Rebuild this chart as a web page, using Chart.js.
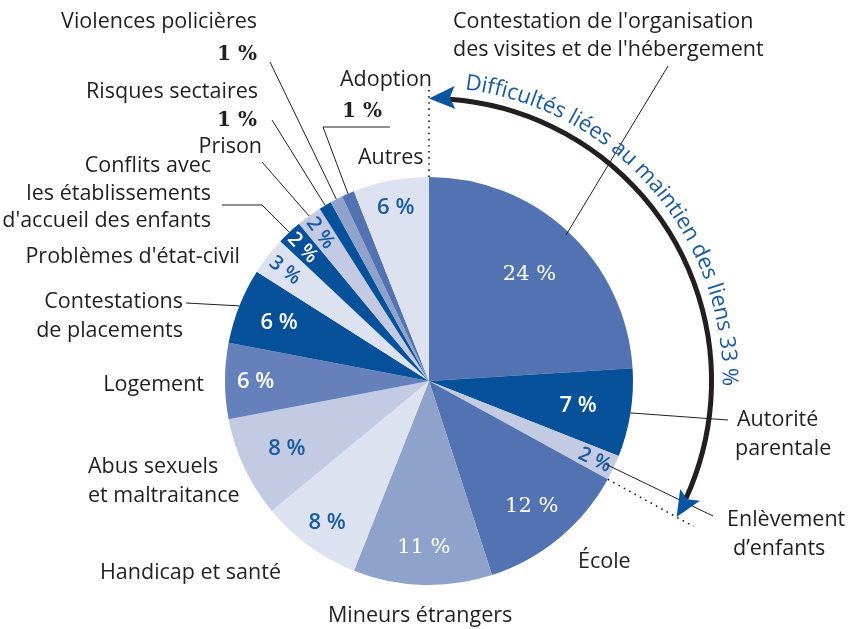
<!DOCTYPE html>
<html lang="fr">
<head>
<meta charset="utf-8">
<script src="https://cdn.jsdelivr.net/npm/chart.js@4.4.1/dist/chart.umd.min.js"></script>
<style>
  html, body { margin: 0; padding: 0; background: #fff; }
  canvas { display: block; }
</style>
</head>
<body>
<canvas id="pie-chart" width="853" height="629"></canvas>
<script>
// slices, clockwise from 12 o'clock
const categories = [
    "Contestation de l'organisation des visites et de l'hébergement",
    "Autorité parentale",
    "Enlèvement d'enfants",
    "École",
    "Mineurs étrangers",
    "Handicap et santé",
    "Abus sexuels et maltraitance",
    "Logement",
    "Contestations de placements",
    "Problèmes d'état-civil",
    "Conflits avec les établissements d'accueil des enfants",
    "Prison",
    "Risques sectaires",
    "Violences policières",
    "Adoption",
    "Autres",
];
const values = [24, 7, 2, 12, 11, 8, 8, 6, 6, 3, 2, 2, 1, 1, 1, 6];
const percentLabels = values.map((v) => v + " %");

// the first three slices form the "maintien des liens" group
const groupCount = 3;
const groupTitle = "Difficultés liées au maintien des liens";
const groupTotal = values.slice(0, groupCount).reduce((a, b) => a + b, 0);

// colours
const MED = "#5272b1";
const DARK = "#07509a";
const GREY = "#8fa2cc";
const LIGHT = "#c2cae4";
const VLIGHT = "#dde2f1";
const MED2 = "#6680bb";
const sliceColors = [MED, DARK, LIGHT, MED, GREY, VLIGHT, LIGHT, MED2, DARK, VLIGHT, DARK, LIGHT, DARK, GREY, MED, VLIGHT];

const INK = "#231f20";
const BLUE_TXT = "#1a5aa2";
const SANS = '"Open Sans", "DejaVu Sans", sans-serif';
const SERIF = '"DejaVu Serif", "Liberation Serif", serif';

const PCT_SANS = "600 22px " + SANS;
const PCT_SMALL = "600 20px " + SANS;
const PCT_SERIF = "21px " + SERIF;
const LABEL_FONT = "21.5px " + SANS;

// percent labels inside the slices (null = no label)
const innerStyles = [
    { r: 0.72, color: "#fff", font: PCT_SERIF },
    { r: 0.74, color: "#fff", font: PCT_SANS },
    { r: 0.90, color: BLUE_TXT, font: PCT_SMALL, rotate: true },
    { r: 0.79, color: "#fff", font: PCT_SERIF },
    { r: 0.81, color: "#fff", font: PCT_SERIF },
    { r: 0.85, color: BLUE_TXT, font: PCT_SANS },
    { r: 0.77, color: BLUE_TXT, font: PCT_SANS },
    { r: 0.85, color: "#fff", font: PCT_SANS },
    { r: 0.79, color: "#fff", font: PCT_SANS },
    { r: 0.89, color: BLUE_TXT, font: PCT_SMALL, rotate: true },
    { r: 0.90, color: "#fff", font: PCT_SMALL, rotate: true },
    { r: 0.90, color: BLUE_TXT, font: PCT_SMALL, rotate: true },
    null,
    null,
    null,
    { r: 0.87, color: BLUE_TXT, font: PCT_SANS },
];

// outside labels: text lines and leader lines (leader ends on the slice)
const outsideLabels = [
    { lines: [["Contestation de l'organisation", 453, 22], ["des visites et de l'hébergement", 453, 50]], align: "left",
      leader: [[668, 66]], edge: 0.98 },
    { lines: [["Autorité", 737, 420], ["parentale", 735, 449]], align: "left",
      leader: [[728, 420]], edge: 1.0 },
    { lines: [["Enlèvement", 727, 520], ["d’enfants", 733, 549]], align: "left",
      leader: [[713, 516]], edge: 0.96 },
    { lines: [["École", 578, 562]], align: "left" },
    { lines: [["Mineurs étrangers", 328, 616]], align: "left" },
    { lines: [["Handicap et santé", 100, 573]], align: "left" },
    { lines: [["Abus sexuels", 88, 467], ["et maltraitance", 88, 496]], align: "left" },
    { lines: [["Logement", 204, 385]], align: "right" },
    { lines: [["Contestations", 183, 302], ["de placements", 183, 331]], align: "right",
      leader: [[186, 303]], edge: 1.0 },
    { lines: [["Problèmes d'état-civil", 240, 257]], align: "right" },
    { lines: [["Conflits avec", 211, 166], ["les établissements", 211, 194], ["d'accueil des enfants", 211, 221]], align: "right",
      leader: [[222, 205], [262, 205]], edge: 1.0 },
    { lines: [["Prison", 262, 147]], align: "right",
      leader: [[262, 162]], edge: 1.0 },
    { lines: [["Risques sectaires", 258, 92]], pct: [257, 121], align: "right",
      leader: [[272, 120]], edge: 1.0 },
    { lines: [["Violences policières", 257, 22]], pct: [257, 55], align: "right",
      leader: [[270, 62]], edge: 1.0 },
    { lines: [["Adoption", 340, 80]], pct: [342, 112], align: "left",
      leader: [[390, 127], [323, 127]], edge: 1.0 },
    { lines: [["Autres", 358, 158]], align: "left" },
];

function polar(arc, angle, r) {
    return [arc.x + r * Math.cos(angle), arc.y + r * Math.sin(angle)];
}

function drawArrowHead(ctx, tip, dir, len, width) {
    ctx.save();
    ctx.translate(tip[0], tip[1]);
    ctx.rotate(dir);
    ctx.beginPath();
    ctx.moveTo(0, 0);
    ctx.lineTo(-len, -width / 2);
    ctx.lineTo(-len * 0.8, 0);
    ctx.lineTo(-len, width / 2);
    ctx.closePath();
    ctx.fillStyle = "#0a55a0";
    ctx.fill();
    ctx.restore();
}

function drawCurvedText(ctx, text, cx, cy, r, a0, a1) {
    ctx.save();
    ctx.font = "22px " + SANS;
    ctx.fillStyle = BLUE_TXT;
    ctx.textAlign = "center";
    ctx.textBaseline = "alphabetic";
    const total = ctx.measureText(text).width;
    const scale = ((a1 - a0) * r) / total;
    let a = a0;
    for (const ch of text) {
        const w = ctx.measureText(ch).width * scale;
        const mid = a + w / 2 / r;
        ctx.save();
        ctx.translate(cx + r * Math.cos(mid), cy + r * Math.sin(mid));
        ctx.rotate(mid + Math.PI / 2);
        ctx.fillText(ch, 0, 0);
        ctx.restore();
        a += w / r;
    }
    ctx.restore();
}

const annotations = {
    id: "annotations",
    afterDatasetsDraw(chart) {
        const ctx = chart.ctx;
        const arcs = chart.getDatasetMeta(0).data;
        const R = arcs[0].outerRadius;
        const cx = arcs[0].x;
        const cy = arcs[0].y;

        // percent labels inside slices
        arcs.forEach((arc, i) => {
            const st = innerStyles[i];
            if (!st) return;
            const mid = (arc.startAngle + arc.endAngle) / 2;
            const [x, y] = polar(arc, mid, R * st.r);
            ctx.save();
            ctx.translate(x, y);
            if (st.rotate) {
                // text runs radially, always left-to-right
                let rot = mid;
                if (Math.cos(mid) < 0) rot += Math.PI;
                ctx.rotate(rot);
            }
            ctx.font = st.font;
            ctx.fillStyle = st.color;
            ctx.textAlign = "center";
            ctx.textBaseline = "middle";
            ctx.fillText(percentLabels[i], 0, 1);
            ctx.restore();
        });

        // leader lines
        ctx.save();
        ctx.strokeStyle = INK;
        ctx.lineWidth = 1;
        arcs.forEach((arc, i) => {
            const lab = outsideLabels[i];
            if (!lab.leader) return;
            const mid = (arc.startAngle + arc.endAngle) / 2;
            const end = polar(arc, mid, R * lab.edge);
            ctx.beginPath();
            ctx.moveTo(lab.leader[0][0], lab.leader[0][1]);
            lab.leader.slice(1).forEach((p) => ctx.lineTo(p[0], p[1]));
            ctx.lineTo(end[0], end[1]);
            ctx.stroke();
        });
        ctx.restore();

        // outside text
        ctx.save();
        ctx.fillStyle = INK;
        ctx.textBaseline = "middle";
        outsideLabels.forEach((lab, i) => {
            ctx.textAlign = lab.align;
            ctx.font = LABEL_FONT;
            lab.lines.forEach(([t, x, y]) => ctx.fillText(t, x, y));
            if (lab.pct) {
                ctx.font = "bold 20px " + SERIF;
                ctx.fillText(percentLabels[i], lab.pct[0], lab.pct[1]);
            }
        });
        ctx.restore();

        // group arc with arrows
        const a0 = arcs[0].startAngle;
        const a1 = arcs[groupCount - 1].endAngle;
        const RA = R * 1.385;
        const headLen = 26;

        ctx.save();
        ctx.strokeStyle = INK;
        ctx.lineWidth = 1.6;
        ctx.setLineDash([1.6, 4.5]);
        ctx.beginPath();
        let p = polar(arcs[0], a0, R);
        ctx.moveTo(p[0], p[1]);
        p = polar(arcs[0], a0, R * 1.45);
        ctx.lineTo(p[0], p[1]);
        p = polar(arcs[0], a1, R);
        ctx.moveTo(p[0], p[1]);
        p = polar(arcs[0], a1, R * 1.48);
        ctx.lineTo(p[0], p[1]);
        ctx.stroke();
        ctx.restore();

        ctx.save();
        ctx.strokeStyle = INK;
        ctx.lineWidth = 5;
        ctx.beginPath();
        ctx.arc(cx, cy, RA, a0 + (headLen * 0.8) / RA, a1 - (headLen * 0.8) / RA);
        ctx.stroke();
        ctx.restore();

        drawArrowHead(ctx, polar(arcs[0], a0, RA), a0 - Math.PI / 2 - 0.04, headLen, 23);
        drawArrowHead(ctx, polar(arcs[0], a1, RA), a1 + Math.PI / 2 + 0.04, headLen, 23);

        drawCurvedText(
            ctx,
            groupTitle + " " + groupTotal + " %",
            cx, cy, R * 1.44,
            a0 + (7 * Math.PI) / 180,
            a0 + (91 * Math.PI) / 180
        );
    },
};

const pieChart = new Chart(document.getElementById("pie-chart"), {
    type: "pie",
    data: {
        labels: categories,
        datasets: [
            {
                data: values,
                backgroundColor: sliceColors,
                borderWidth: 0,
            },
        ],
    },
    options: {
        responsive: false,
        animation: false,
        rotation: 0,
        layout: {
            padding: { top: 177, left: 225, right: 220, bottom: 44 },
        },
        plugins: {
            legend: { display: false },
            tooltip: { enabled: false },
        },
    },
    plugins: [annotations],
});
</script>
</body>
</html>
